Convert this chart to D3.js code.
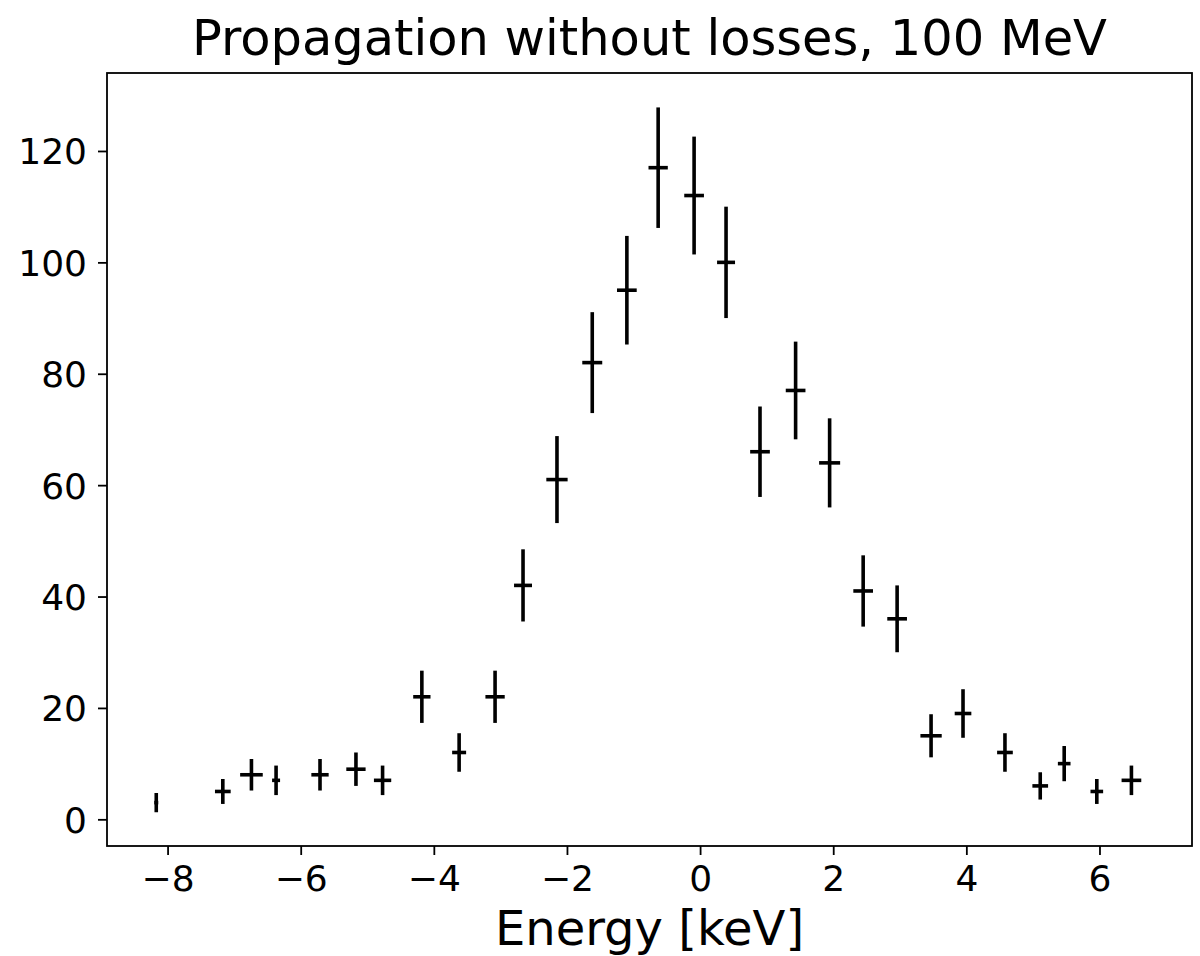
<!DOCTYPE html>
<html>
<head>
<meta charset="utf-8">
<script src="https://cdn.jsdelivr.net/npm/d3@7"></script>
<style>
  body { margin: 0; background: #fff; }
  text { font-family: "DejaVu Sans", sans-serif; fill: #000; }
</style>
</head>
<body>
<div id="chart"></div>
<script>
// bin centres [keV], counts and their errors
var energy = [-8.17, -7.17, -6.74, -6.37, -5.71, -5.17, -4.77, -4.18, -3.62, -3.08,
              -2.66, -2.15, -1.62, -1.10, -0.63, -0.09, 0.39, 0.90, 1.435, 1.946,
              2.45, 2.96, 3.47, 3.95, 4.58, 5.11, 5.47, 5.96, 6.48];
var counts = [3, 5, 8, 7, 8, 9, 7, 22, 12, 22,
              42, 61, 82, 95, 117, 112, 100, 66, 77, 64,
              41, 36, 15, 19, 12, 6, 10, 5, 7];
var xerr = [0.03, 0.118, 0.17, 0.06, 0.13, 0.145, 0.13, 0.13, 0.105, 0.145,
            0.135, 0.16, 0.15, 0.148, 0.145, 0.148, 0.135, 0.148, 0.148, 0.158,
            0.148, 0.148, 0.16, 0.125, 0.118, 0.118, 0.095, 0.095, 0.148];
var yerr = [1.73, 2.24, 2.83, 2.65, 2.83, 3.0, 2.65, 4.69, 3.46, 4.69,
            6.48, 7.81, 9.06, 9.75, 10.82, 10.58, 10.0, 8.12, 8.77, 8.0,
            6.4, 6.0, 3.87, 4.36, 3.46, 2.45, 3.16, 2.24, 2.65];
var xTicks = [-8, -6, -4, -2, 0, 2, 4, 6];
var yTicks = [0, 20, 40, 60, 80, 100, 120];

var width = 1200,
    height = 956,
    margin = {top: 73, right: 8, bottom: 110, left: 107};

var svg = d3.select("#chart")
    .append("svg")
    .attr("width", width)
    .attr("height", height);

var x = d3.scaleLinear()
    .domain([-8.91, 7.39])
    .range([margin.left, width - margin.right]);

var y = d3.scaleLinear()
    .domain([-4.79, 134.0])
    .range([height - margin.bottom, margin.top]);

var data = energy.map(function (d, i) {
    return {x: d, y: counts[i], dx: xerr[i], dy: yerr[i]};
});

// error bars
var bars = svg.append("g")
    .attr("stroke", "#000")
    .attr("stroke-width", 3.6);

bars.selectAll(".ebar-y")
    .data(data)
    .enter()
    .append("line")
    .attr("class", "ebar-y")
    .attr("x1", function (d) { return x(d.x); })
    .attr("x2", function (d) { return x(d.x); })
    .attr("y1", function (d) { return y(d.y - d.dy); })
    .attr("y2", function (d) { return y(d.y + d.dy); });

bars.selectAll(".ebar-x")
    .data(data)
    .enter()
    .append("line")
    .attr("class", "ebar-x")
    .attr("x1", function (d) { return x(d.x - d.dx); })
    .attr("x2", function (d) { return x(d.x + d.dx); })
    .attr("y1", function (d) { return y(d.y); })
    .attr("y2", function (d) { return y(d.y); });

// axes
var xAxis = svg.append("g")
    .attr("transform", "translate(0," + (height - margin.bottom) + ")")
    .call(d3.axisBottom(x).tickValues(xTicks).tickSize(9).tickPadding(10)
        .tickFormat(function (d) { return d < 0 ? "\u2212" + Math.abs(d) : d; }));

var yAxis = svg.append("g")
    .attr("transform", "translate(" + margin.left + ",0)")
    .call(d3.axisLeft(y).tickValues(yTicks).tickSize(9).tickPadding(11));

[xAxis, yAxis].forEach(function (a) {
    a.select(".domain").remove();
    a.selectAll("line").attr("stroke", "#000").attr("stroke-width", 1.8);
    a.selectAll("text")
        .style("font-family", "DejaVu Sans")
        .style("font-size", "36px")
        .attr("fill", "#000");
});
yAxis.selectAll("text").attr("dy", "0.36em");
xAxis.selectAll("text").attr("dy", "0.72em");

// frame
svg.append("rect")
    .attr("x", margin.left)
    .attr("y", margin.top)
    .attr("width", width - margin.left - margin.right)
    .attr("height", height - margin.top - margin.bottom)
    .attr("fill", "none")
    .attr("stroke", "#000")
    .attr("stroke-width", 1.8);

// title and label
svg.append("text")
    .attr("x", (margin.left + width - margin.right) / 2)
    .attr("y", 55)
    .attr("text-anchor", "middle")
    .style("font-size", "49.5px")
    .text("Propagation without losses, 100 MeV");

svg.append("text")
    .attr("x", (margin.left + width - margin.right) / 2)
    .attr("y", 945)
    .attr("text-anchor", "middle")
    .style("font-size", "48px")
    .text("Energy [keV]");
</script>
</body>
</html>
